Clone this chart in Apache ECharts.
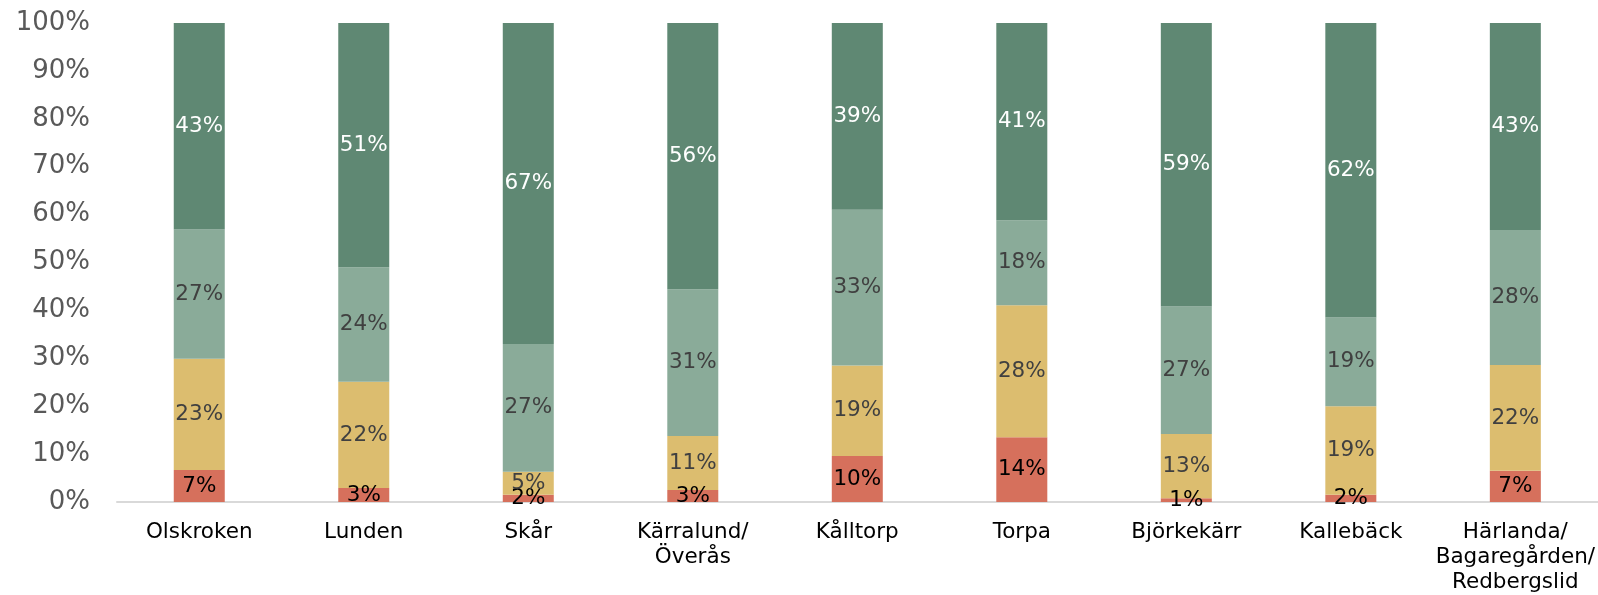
<!DOCTYPE html>
<html>
<head>
<meta charset="utf-8">
<script src="https://cdn.jsdelivr.net/npm/echarts@6/dist/echarts.min.js"></script>
<style>
html, body { margin: 0; padding: 0; background: #fff; }
#main { width: 1598px; height: 595px; }
</style>
</head>
<body>
<div id="main"></div>
<script>
// categories
var omraden = ['Olskroken', 'Lunden', 'Skår', 'Kärralund/\nÖverås', 'Kålltorp', 'Torpa', 'Björkekärr', 'Kallebäck', 'Härlanda/\nBagaregården/\nRedbergslid'];
// andelar i procent, nedifrån och upp
var roda   = [6.7, 2.9, 1.5, 2.5, 9.6, 13.5, 0.8, 1.5, 6.5];
var gula   = [23.2, 22.2, 4.8, 11.3, 18.9, 27.6, 13.4, 18.5, 22.1];
var ljusa  = [27.0, 23.9, 26.7, 30.6, 32.5, 17.7, 26.6, 18.5, 28.2];
var morka  = [43.1, 51.0, 67.0, 55.6, 39.0, 41.2, 59.2, 61.5, 43.2];
var yTicks = [0, 10, 20, 30, 40, 50, 60, 70, 80, 90, 100];

var font = 'Verdana, "DejaVu Sans", sans-serif';

function serie(data, color, labelColor) {
	return {
		type: 'bar',
		stack: 'tot',
		barWidth: 51,
		data: data,
		itemStyle: { color: color },
		label: {
			show: true,
			position: 'inside',
			color: labelColor,
			fontFamily: font,
			fontSize: 21.5,
			formatter: function (p) { return Math.round(p.value) + '%'; }
		}
	};
}

var myChart = echarts.init(document.getElementById('main'));
var option = {
	animation: false,
	backgroundColor: '#fff',
	grid: { left: 117, right: 0, top: 23, bottom: 92 },
	xAxis: {
		type: 'category',
		data: omraden,
		axisLine: { lineStyle: { color: '#d9d9d9', width: 2 } },
		axisTick: { show: false },
		axisLabel: {
			color: '#000',
			fontFamily: font,
			fontSize: 21.5,
			lineHeight: 25,
			margin: 18,
			interval: 0
		}
	},
	yAxis: {
		type: 'value',
		min: 0,
		max: 100,
		interval: 10,
		splitLine: { show: false },
		axisLine: { show: false },
		axisTick: { show: false },
		axisLabel: {
			color: '#595959',
			fontFamily: font,
			fontSize: 26,
			margin: 27,
			formatter: function (v) { return yTicks.indexOf(v) >= 0 ? v + '%' : ''; }
		}
	},
	series: [
		serie(roda, '#d6705c', '#000'),
		serie(gula, '#dcbd6f', '#404040'),
		serie(ljusa, '#8aab99', '#404040'),
		serie(morka, '#5f8873', '#fff')
	]
};
myChart.setOption(option, true);
</script>
</body>
</html>
